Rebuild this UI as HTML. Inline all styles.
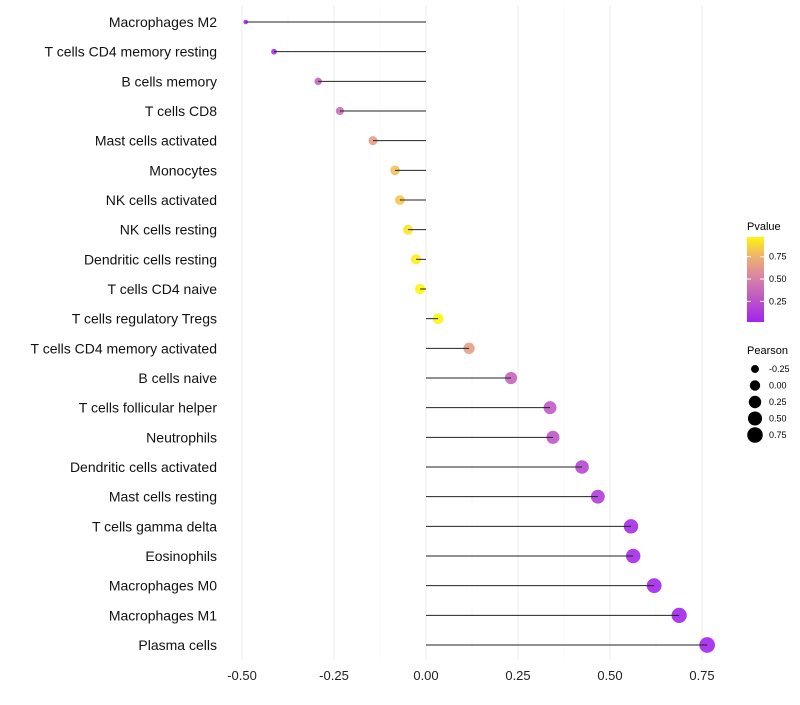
<!DOCTYPE html>
<html><head><meta charset="utf-8"><style>
body{margin:0;background:#fff;font-family:"Liberation Sans",sans-serif}
svg text{font-family:"Liberation Sans",sans-serif}
</style></head><body>
<svg id="c" width="800" height="700"></svg>
<script>
const categories=["Macrophages M2","T cells CD4 memory resting","B cells memory","T cells CD8","Mast cells activated","Monocytes","NK cells activated","NK cells resting","Dendritic cells resting","T cells CD4 naive","T cells regulatory  Tregs ","T cells CD4 memory activated","B cells naive","T cells follicular helper","Neutrophils","Dendritic cells activated","Mast cells resting","T cells gamma delta","Eosinophils","Macrophages M0","Macrophages M1","Plasma cells"];
const pearson=[-0.49,-0.413,-0.293,-0.234,-0.144,-0.084,-0.071,-0.049,-0.027,-0.016,0.033,0.117,0.231,0.337,0.345,0.424,0.467,0.557,0.563,0.62,0.688,0.764];
const pvalue=[0.05,0.1,0.35,0.4,0.65,0.8,0.82,0.92,0.95,0.97,0.97,0.65,0.35,0.3,0.28,0.2,0.15,0.06,0.05,0.04,0.03,0.03];
const xTicks=[-0.5,-0.25,0,0.25,0.5,0.75];
const xTickLabels=["-0.50","-0.25","0.00","0.25","0.50","0.75"];
const pTicks=[0.25,0.5,0.75];
const sizeTicks=[-0.25,0,0.25,0.5,0.75];
const sizeTickLabels=["-0.25","0.00","0.25","0.50","0.75"];

const NS="http://www.w3.org/2000/svg",svg=document.getElementById('c');
function el(t,a,p){const e=document.createElementNS(NS,t);for(const k in a)e.setAttribute(k,a[k]);(p||svg).appendChild(e);return e;}
const xs=v=>426+v*368;
const ys=i=>22+i*(645-22)/21;
const rs=v=>Math.sqrt(Math.max(2.5,5+45*(v+0.49)));
function lerp(a,b,t){return a.map((x,i)=>Math.round(x+(b[i]-x)*t));}
const stops=[[0,[160,32,240]],[0.5,[214,128,168]],[0.75,[238,176,112]],[1,[255,255,0]]];
function col(p){p=Math.max(0,Math.min(1,p));for(let i=1;i<stops.length;i++){if(p<=stops[i][0]){const t=(p-stops[i-1][0])/(stops[i][0]-stops[i-1][0]);return 'rgb('+lerp(stops[i-1][1],stops[i][1],t).join(',')+')';}}}
for(let v=-0.5;v<=0.76;v+=0.125){const maj=Math.abs((v*4)%1)<1e-6;const g=el('line',{x1:xs(v),x2:xs(v),y1:5,y2:660,stroke:maj?'#eeeeee':'#f6f6f6','stroke-width':maj?1:0.6});
}
xTicks.forEach((v,i)=>{const t=el('text',{x:xs(v),y:680,'text-anchor':'middle','font-size':13,fill:'#222'});t.textContent=xTickLabels[i];
});
categories.forEach((c,i)=>{const y=ys(i);
const t=el('text',{x:217,y:y+5,'text-anchor':'end','font-size':14,fill:'#111'});t.textContent=c;

const d=el('circle',{cx:xs(pearson[i]),cy:y,r:rs(pearson[i]),fill:col(pvalue[i]),'fill-opacity':0.9});

const l=el('line',{x1:xs(0),x2:xs(pearson[i]),y1:y,y2:y,stroke:'#222','stroke-width':1});
});
const lt=el('text',{x:747,y:230,'font-size':11});lt.textContent='Pvalue';

const defs=el('defs',{});const gr=el('linearGradient',{id:'g',x1:0,y1:1,x2:0,y2:0},defs);
for(let p=0;p<=1.001;p+=0.1)el('stop',{offset:p,'stop-color':col(0.02+p*0.95)},gr);
const cb=el('rect',{x:747,y:237,width:17,height:85,fill:'url(#g)'});

const py=p=>322-(p-0.02)/0.95*85;
pTicks.forEach(p=>{el('line',{x1:747,x2:751,y1:py(p),y2:py(p),stroke:'#fff'});el('line',{x1:760,x2:764,y1:py(p),y2:py(p),stroke:'#fff'});
const t=el('text',{x:769,y:py(p)+3,'font-size':9});t.textContent=p.toFixed(2);
});
const st=el('text',{x:747,y:354,'font-size':11});st.textContent='Pearson';

sizeTicks.forEach((v,i)=>{const y=369+i*16.5;
const c=el('circle',{cx:755,cy:y,r:rs(v),fill:'#000'});
const t=el('text',{x:769,y:y+3,'font-size':9});t.textContent=sizeTickLabels[i];
});
</script></body></html>
